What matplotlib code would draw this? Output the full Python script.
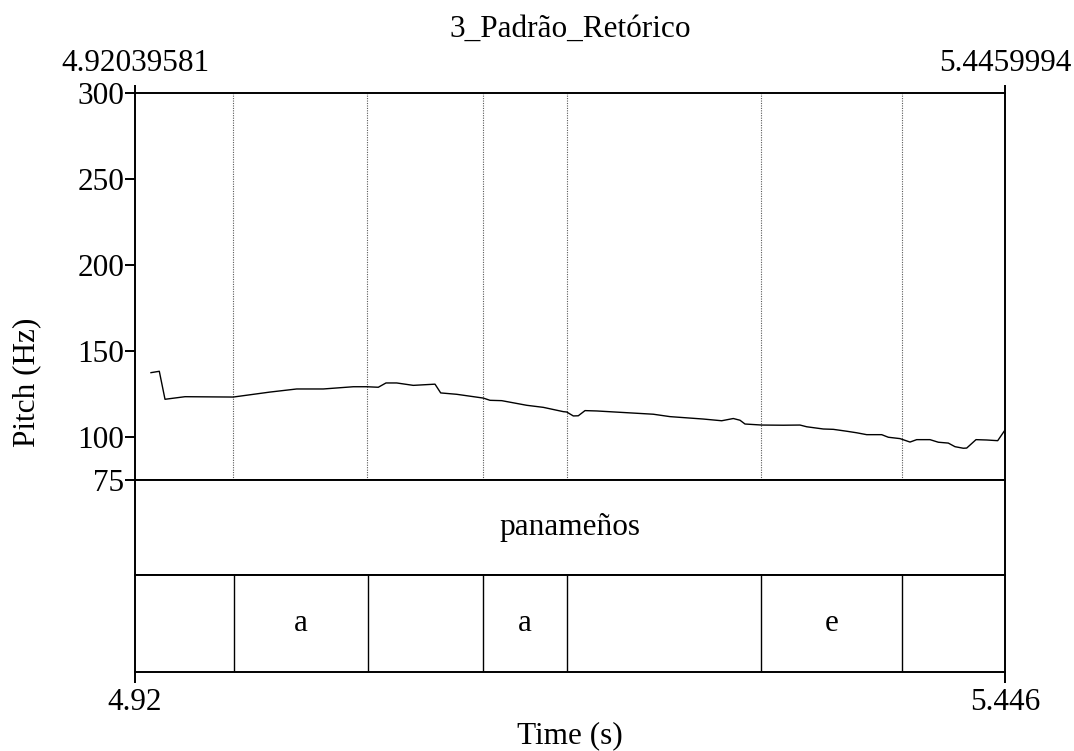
import matplotlib
matplotlib.use("Agg")
import matplotlib.pyplot as plt

plt.rcParams["font.family"] = ["Liberation Serif", "DejaVu Serif"]

# Time window of the selection (s)
t_start = 4.92039581
t_end = 5.4459994

# Pitch contour (time in s, F0 in Hz)
pitch_t = [4.93006, 4.93508, 4.93852, 4.95060, 4.97978, 5.00195, 5.01808, 5.03415,
           5.05228, 5.06037, 5.06738, 5.07203, 5.07850, 5.08853, 5.10164, 5.10508,
           5.11475, 5.13082, 5.13487, 5.14194, 5.15704, 5.16707, 5.17915, 5.18120,
           5.18519, 5.18821, 5.19226, 5.19933, 5.23352, 5.24361, 5.26373, 5.27484,
           5.28185, 5.28590, 5.28892, 5.29901, 5.31206, 5.32215, 5.32620, 5.33623,
           5.34227, 5.35036, 5.35640, 5.36244, 5.37151, 5.37550, 5.38257, 5.38861,
           5.39265, 5.40069, 5.40571, 5.41175, 5.41579, 5.42081, 5.42286, 5.42848,
           5.43494, 5.44159, 5.44600]
pitch_hz = [137.2, 138.0, 121.7, 123.2, 123.0, 125.9, 127.7, 127.7,
            129.0, 129.0, 128.7, 131.2, 131.2, 129.8, 130.5, 125.4,
            124.6, 122.4, 121.1, 120.9, 118.2, 117.0, 114.5, 114.3,
            112.0, 112.1, 115.1, 114.9, 113.0, 111.6, 110.2, 109.2,
            110.5, 109.5, 107.3, 106.7, 106.6, 106.7, 105.7, 104.4,
            104.2, 103.1, 102.2, 101.1, 101.1, 99.6, 98.8, 96.8,
            98.2, 98.2, 96.7, 96.2, 94.1, 93.2, 93.3, 98.2,
            98.0, 97.6, 103.8]

pitch_ticks = [75, 100, 150, 200, 250, 300]

# Tier 1: word; Tier 2: segment intervals
word_label = "panameños"
seg_bounds = [4.97980, 5.06074, 5.13046, 5.18120, 5.29877, 5.38359]
seg_edges = [t_start] + seg_bounds + [t_end]
seg_labels = ["", "a", "", "a", "", "e", ""]

bottom_ticks = [4.92, 5.446]
bottom_tick_labels = ["4.92", "5.446"]

W, H = 1074, 751
fig = plt.figure(figsize=(W / 100, H / 100), dpi=100)

def px_axes(x0, y0, x1, y1):
    return fig.add_axes([x0 / W, 1 - y1 / H, (x1 - x0) / W, (y1 - y0) / H])

FS = 22.5
LW = 1.4

ax = px_axes(135, 93, 1005, 479.5)
t1 = px_axes(135, 479.5, 1005, 575)
t2 = px_axes(135, 575, 1005, 671.5)

for a in (ax, t1, t2):
    a.set_xlim(t_start, t_end)
    for s in a.spines.values():
        s.set_linewidth(LW)

# Pitch panel
ax.set_ylim(75, 300)
for b in seg_bounds:
    ax.axvline(b, color="0.35", linestyle=(0, (1, 1.2)), linewidth=0.8)
ax.plot(pitch_t, pitch_hz, color="black", linewidth=1.0)
ax.set_yticks(pitch_ticks)
ax.set_yticklabels([str(v) for v in pitch_ticks])
ax.tick_params(axis="y", direction="out", length=7, width=LW, labelsize=FS, pad=0.5)
ax.xaxis.tick_top()
ax.set_xticks([t_start, t_end])
ax.set_xticklabels(["4.92039581", "5.4459994"])
ax.tick_params(axis="x", direction="out", length=6, width=LW, labelsize=FS, pad=5)

# Word tier
t1.set_ylim(0, 1)
t1.set_xticks([])
t1.set_yticks([])
t1.text((t_start + t_end) / 2, 0.5, word_label, ha="center", va="center", fontsize=FS)

# Segment tier
t2.set_ylim(0, 1)
t2.set_yticks([])
for b in seg_bounds:
    t2.axvline(b, color="black", linewidth=1.0)
for lab, a0, a1 in zip(seg_labels, seg_edges[:-1], seg_edges[1:]):
    if lab:
        t2.text((a0 + a1) / 2, 0.5, lab, ha="center", va="center", fontsize=FS)
t2.set_xticks(bottom_ticks)
t2.set_xticklabels(bottom_tick_labels)
t2.tick_params(axis="x", direction="out", length=8, width=LW, labelsize=FS, pad=4)

fig.text(570 / W, 1 - 29 / H, "3_Padrão_Retórico", ha="center", va="center", fontsize=FS)
fig.text(570 / W, 1 - 736 / H, "Time (s)", ha="center", va="center", fontsize=FS)
fig.text(27 / W, 1 - 382 / H, "Pitch (Hz)", ha="center", va="center", rotation=90, fontsize=FS)

fig.savefig("out.png", dpi=100, facecolor="white")
